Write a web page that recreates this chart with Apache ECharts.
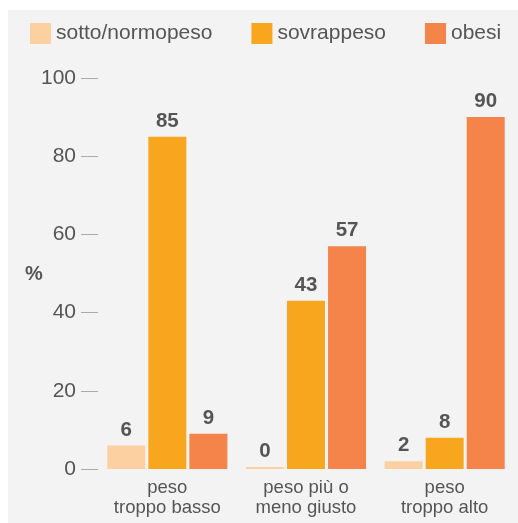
<!DOCTYPE html>
<html>
<head>
<meta charset="utf-8">
<script src="https://cdn.jsdelivr.net/npm/echarts@6/dist/echarts.min.js"></script>
<style>
  html, body { margin: 0; padding: 0; background: #fff; }
  #chart { width: 518px; height: 523px; }
</style>
</head>
<body>
<div id="chart"></div>
<script>
// categorie e valori (%)
var categories = ["peso\ntroppo basso", "peso più o\nmeno giusto", "peso\ntroppo alto"];
var seriesNames = ["sotto/normopeso", "sovrappeso", "obesi"];
var sottoNormo = [6, 0, 2];
var sovrappeso = [85, 43, 8];
var obesi = [9, 57, 90];
var colors = ["#fdd0a2", "#f9a61f", "#f4844a"];

var font = "Liberation Sans, Arial, sans-serif";
var chart = echarts.init(document.getElementById("chart"));

function makeSeries(name, data, color) {
  return {
    name: name,
    type: "bar",
    data: data,
    barWidth: 38,
    barGap: "8%",
    barMinHeight: 2,
    itemStyle: { color: color },
    label: {
      show: true,
      position: "top",
      distance: 5,
      color: "#555",
      fontFamily: font,
      fontWeight: "bold",
      fontSize: 20.5
    }
  };
}

var option = {
  animation: false,
  graphic: [{
    type: "rect",
    z: -10,
    silent: true,
    shape: { x: 8, y: 10, width: 510, height: 513 },
    style: { fill: "#f2f3f2" }
  }, {
    type: "text",
    left: 25,
    top: 264,
    style: { text: "%", fill: "#555", font: "bold 20px " + font }
  }],
  legend: {
    left: 25,
    top: 18,
    itemWidth: 21,
    itemHeight: 21,
    itemGap: 39,
    icon: "rect",
    textStyle: { color: "#555", fontSize: 21, fontFamily: font }
  },
  grid: { left: 98, right: 4, top: 78, bottom: 54, containLabel: false },
  xAxis: {
    type: "category",
    data: categories,
    axisLine: { show: false },
    axisTick: { show: false },
    axisLabel: {
      interval: 0,
      hideOverlap: false,
      color: "#555",
      fontSize: 18.5,
      fontFamily: font,
      margin: 9,
      lineHeight: 20
    }
  },
  yAxis: {
    type: "value",
    min: 0,
    max: 100,
    interval: 20,
    axisLine: { show: false },
    axisTick: { show: true, length: 17, lineStyle: { color: "#aaa" } },
    splitLine: { show: false },
    axisLabel: { color: "#555", fontSize: 21, fontFamily: font, margin: 22 }
  },
  series: [
    makeSeries(seriesNames[0], sottoNormo, colors[0]),
    makeSeries(seriesNames[1], sovrappeso, colors[1]),
    makeSeries(seriesNames[2], obesi, colors[2])
  ]
};
chart.setOption(option);
</script>
</body>
</html>
